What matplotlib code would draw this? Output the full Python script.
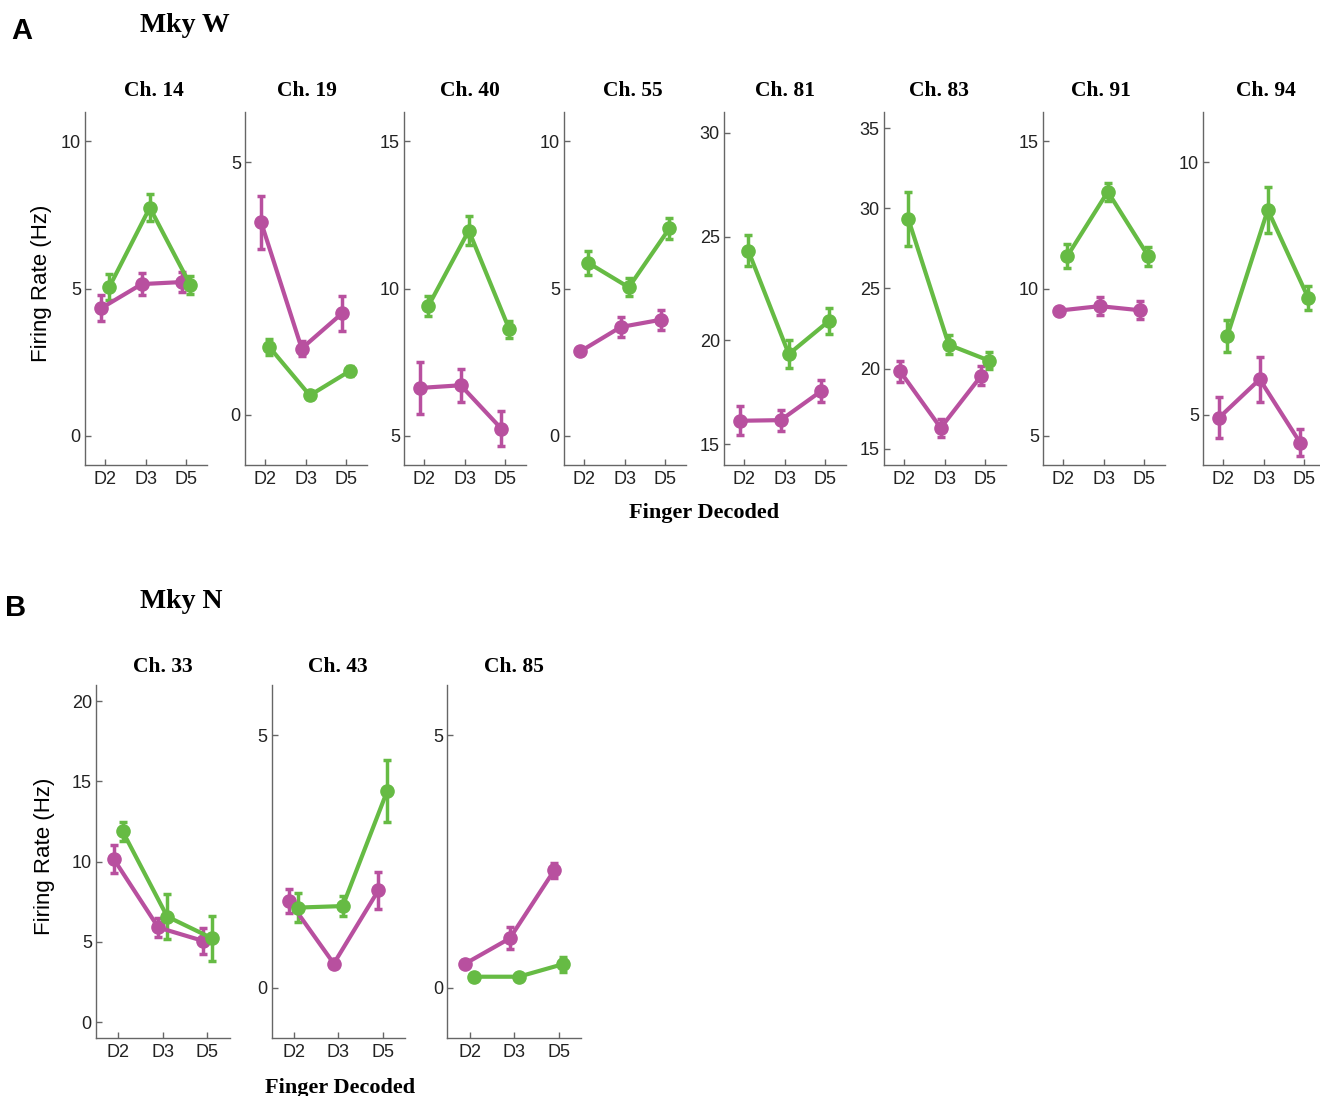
import numpy as np
import matplotlib.pyplot as plt

plt.rcParams['font.family'] = ['Liberation Sans', 'DejaVu Sans']

fingers = ["D2", "D3", "D5"]
mag_color = "#B8509F"
grn_color = "#66BB44"

# Monkey W
w_channels = ["Ch. 14", "Ch. 19", "Ch. 40", "Ch. 55", "Ch. 81", "Ch. 83", "Ch. 91", "Ch. 94"]
w_mag_mean = [[4.33, 5.15, 5.22], [3.81, 1.31, 2.01], [6.62, 6.71, 5.24], [2.86, 3.69, 3.94],
              [16.13, 16.16, 17.56], [19.83, 16.31, 19.56], [9.25, 9.40, 9.26], [4.94, 5.70, 4.44]]
w_mag_err = [[0.45, 0.38, 0.35], [0.53, 0.15, 0.35], [0.87, 0.56, 0.58], [0.10, 0.34, 0.34],
             [0.70, 0.50, 0.53], [0.65, 0.55, 0.60], [0.05, 0.30, 0.30], [0.40, 0.45, 0.27]]
w_grn_mean = [[5.05, 7.75, 5.12], [1.34, 0.38, 0.87], [9.40, 11.97, 8.61], [5.87, 5.04, 7.04],
              [24.32, 19.34, 20.95], [29.33, 21.49, 20.50], [11.10, 13.29, 11.10], [6.56, 9.06, 7.31]]
w_grn_err = [[0.45, 0.45, 0.32], [0.16, 0.08, 0.10], [0.35, 0.50, 0.30], [0.42, 0.30, 0.37],
             [0.75, 0.68, 0.62], [1.70, 0.60, 0.53], [0.42, 0.30, 0.32], [0.31, 0.46, 0.23]]
w_ylims = [(-1, 11), (-1, 6), (4, 16), (-1, 11), (14, 31), (14, 36), (4, 16), (4, 11)]
w_yticks = [[0, 5, 10], [0, 5], [5, 10, 15], [0, 5, 10], [15, 20, 25, 30],
            [15, 20, 25, 30, 35], [5, 10, 15], [5, 10]]

# Monkey N
n_channels = ["Ch. 33", "Ch. 43", "Ch. 85"]
n_mag_mean = [[10.16, 5.90, 5.07], [1.72, 0.48, 1.93], [0.48, 0.98, 2.33]]
n_mag_err = [[0.88, 0.62, 0.80], [0.24, 0.05, 0.37], [0.07, 0.22, 0.15]]
n_grn_mean = [[11.88, 6.58, 5.24], [1.59, 1.62, 3.90], [0.22, 0.22, 0.47]]
n_grn_err = [[0.57, 1.38, 1.40], [0.28, 0.20, 0.62], [0.0, 0.0, 0.15]]
n_ylims = [(-1, 21), (-1, 6), (-1, 6)]
n_yticks = [[0, 5, 10, 15, 20], [0, 5], [0, 5]]

W, H = 1320, 1096
fig = plt.figure(figsize=(W / 100, H / 100), dpi=100)


def px(x, y):
    return x / W, 1 - y / H


def draw_panel(ax, title, mag_m, mag_e, grn_m, grn_e, ylim, yticks, title_x, title_y):
    x = np.arange(1, 4)
    for xs, m, e, c in [(x - 0.1, mag_m, mag_e, mag_color), (x + 0.1, grn_m, grn_e, grn_color)]:
        ax.errorbar(xs, m, yerr=e, color=c, lw=3.0, marker='o', ms=9.5,
                    elinewidth=2.5, capsize=3.0, capthick=2.5)
    ax.set_xlim(0.5, 3.5)
    ax.set_ylim(*ylim)
    ax.set_xticks(x)
    ax.set_xticklabels(fingers)
    ax.set_yticks(yticks)
    for s in ['top', 'right']:
        ax.spines[s].set_visible(False)
    for s in ['left', 'bottom']:
        ax.spines[s].set_color('#666666')
        ax.spines[s].set_linewidth(1.0)
    ax.tick_params(direction='in', length=4, width=1, color='#666666',
                   labelsize=13, labelcolor='#222222')
    ax.tick_params(axis='x', pad=4)
    ax.tick_params(axis='y', pad=3)
    ax.text(title_x, title_y, title, transform=ax.transAxes, ha='center', va='center',
            family='Liberation Serif', fontweight='bold', fontsize=15.5)


# top row
w_left = [85, 245, 404, 564, 724, 884, 1043, 1203]
w_title_x = [0.57, 0.51, 0.54, 0.57, 0.50, 0.45, 0.48, 0.52]
for i in range(len(w_channels)):
    l, b = px(w_left[i], 465)
    ax = fig.add_axes([l, b, 121.5 / W, 353 / H])
    draw_panel(ax, w_channels[i], w_mag_mean[i], w_mag_err[i], w_grn_mean[i], w_grn_err[i],
               w_ylims[i], w_yticks[i], w_title_x[i], 1.06)
    if i == 0:
        ax.set_ylabel("Firing Rate (Hz)", fontsize=16)
        ax.yaxis.set_label_coords(-0.27, 0.516)

# bottom row
n_left = [96, 271.5, 447.5]
for i in range(len(n_channels)):
    l, b = px(n_left[i], 1038.3)
    ax = fig.add_axes([l, b, 133.5 / W, 353.3 / H])
    draw_panel(ax, n_channels[i], n_mag_mean[i], n_mag_err[i], n_grn_mean[i], n_grn_err[i],
               n_ylims[i], n_yticks[i], 0.5, 1.05)
    if i == 0:
        ax.set_ylabel("Firing Rate (Hz)", fontsize=16)
        ax.yaxis.set_label_coords(-0.305, 0.516)

fig.text(*px(22, 31), "A", fontsize=21, fontweight='bold', ha='center', va='center')
fig.text(*px(16, 608), "B", fontsize=21, fontweight='bold', ha='center', va='center')
fig.text(*px(140, 25), "Mky W", family='Liberation Serif', fontweight='bold',
         fontsize=20, ha='left', va='center')
fig.text(*px(140, 602), "Mky N", family='Liberation Serif', fontweight='bold',
         fontsize=20, ha='left', va='center')
fig.text(*px(704, 513), "Finger Decoded", family='Liberation Serif', fontweight='bold',
         fontsize=16, ha='center', va='center')
fig.text(*px(340, 1078), "Finger Decoded", family='Liberation Serif', fontweight='bold',
         fontsize=16, ha='center', va='top')

fig.savefig("out.png", dpi=100)
